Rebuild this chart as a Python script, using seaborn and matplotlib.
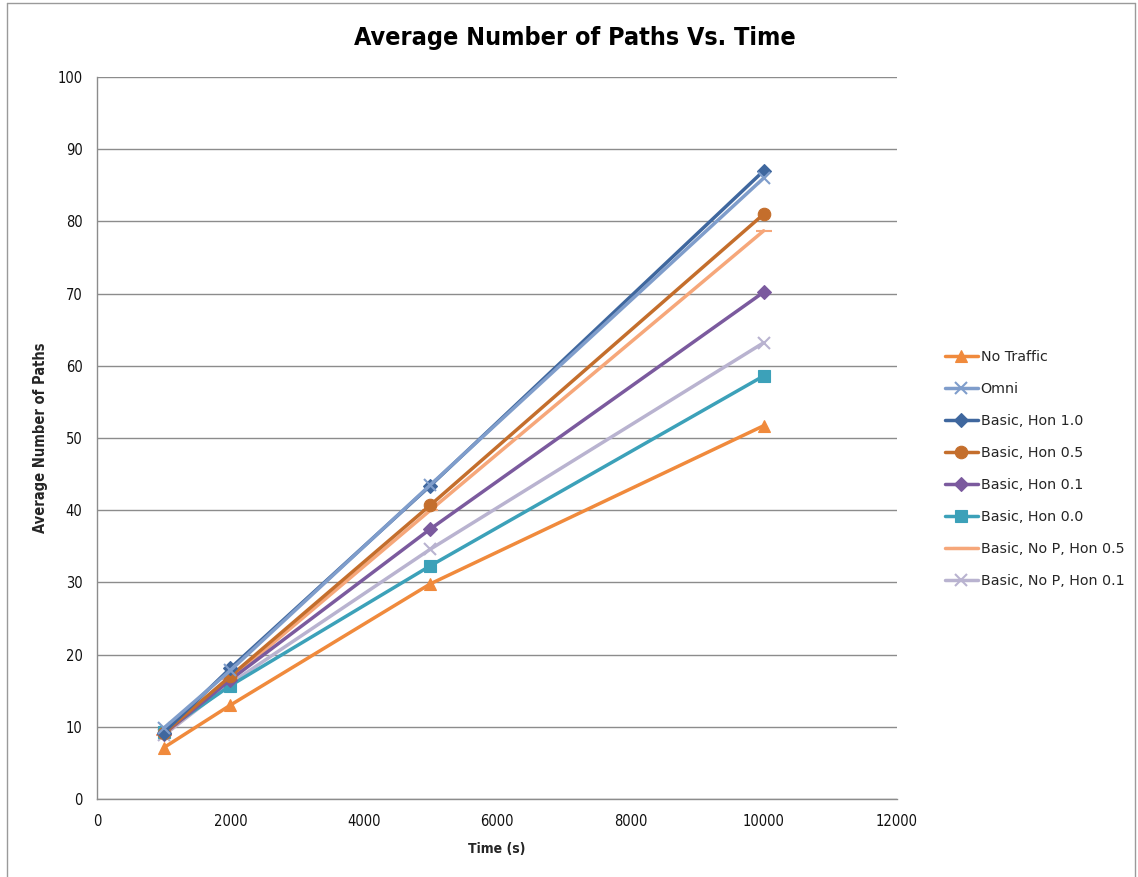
import matplotlib
matplotlib.use("Agg")
import matplotlib.pyplot as plt
from matplotlib.lines import Line2D
import seaborn as sns
import pandas as pd

time_s = [1000, 2000, 5000, 10000]

no_traffic = [7.1, 13.0, 29.8, 51.7]
omni = [9.8, 17.8, 43.5, 86.0]
basic_hon_10 = [9.2, 18.1, 43.4, 87.0]
basic_hon_05 = [9.1, 17.0, 40.7, 81.0]
basic_hon_01 = [9.0, 16.5, 37.4, 70.2]
basic_hon_00 = [9.3, 15.7, 32.3, 58.6]
basic_nop_hon_05 = [8.9, 16.6, 40.0, 78.7]
basic_nop_hon_01 = [8.8, 16.0, 34.6, 63.2]

series_names = ["No Traffic", "Omni", "Basic, Hon 1.0", "Basic, Hon 0.5",
                "Basic, Hon 0.1", "Basic, Hon 0.0", "Basic, No P, Hon 0.5",
                "Basic, No P, Hon 0.1"]
series_values = [no_traffic, omni, basic_hon_10, basic_hon_05,
                 basic_hon_01, basic_hon_00, basic_nop_hon_05, basic_nop_hon_01]

colors = ["#F08A3C", "#7F9DCB", "#3F679E", "#C46E2C",
          "#7B5A9E", "#3CA1B9", "#F6A77A", "#B9B3D0"]
markers = ["^", "x", "D", "o", "D", "s", "_", "x"]
msizes = [9, 8, 7, 9, 7, 9, 12, 8]

x_ticks = [0, 2000, 4000, 6000, 8000, 10000, 12000]
y_ticks = [0, 10, 20, 30, 40, 50, 60, 70, 80, 90, 100]

sns.set_style("white")
plt.rcParams["font.family"] = ["DejaVu Sans"]
plt.rcParams["font.stretch"] = "condensed"

fig = plt.figure(figsize=(11.38, 8.77), dpi=100)
ax = fig.add_axes([97 / 1138, 1 - 799 / 877, 800 / 1138, 722 / 877])

frames = []
for name, vals in zip(series_names, series_values):
    frames.append(pd.DataFrame({"Time (s)": time_s, "Paths": vals, "Series": name}))
df = pd.concat(frames, ignore_index=True)

# Draw in reverse so the first series sits on top
for i in reversed(range(len(series_names))):
    sub = df[df["Series"] == series_names[i]]
    sns.lineplot(data=sub, x="Time (s)", y="Paths", ax=ax, color=colors[i],
                 marker=markers[i], markersize=msizes[i], linewidth=2.5,
                 markeredgecolor=colors[i],
                 markeredgewidth=1.5 if markers[i] in ("x", "_") else 0.8,
                 label=series_names[i], zorder=3 + len(series_names) - i)

ax.set_xlim(0, 12000)
ax.set_ylim(0, 100)
ax.set_xticks(x_ticks)
ax.set_yticks(y_ticks)
ax.tick_params(axis="both", labelsize=10.5, length=0, colors="#111111")
ax.tick_params(axis="x", pad=11)
ax.tick_params(axis="y", pad=10.5)
ax.yaxis.grid(True, color="#8C8C8C", linewidth=1)
ax.xaxis.grid(False)
for side in ("top", "right"):
    ax.spines[side].set_visible(False)
for side in ("left", "bottom"):
    ax.spines[side].set_color("#8C8C8C")
    ax.spines[side].set_linewidth(1)

ax.set_xlabel("Time (s)", fontsize=10, fontweight="bold", labelpad=9)
ax.set_ylabel("Average Number of Paths", fontsize=10.5, fontweight="bold", labelpad=7)

fig.text(575 / 1138, 1 - 38 / 877, "Average Number of Paths Vs. Time",
         ha="center", va="center", fontsize=18, fontweight="bold", color="black")

handles, labels = ax.get_legend_handles_labels()
order = [labels.index(n) for n in series_names]
ax.legend([handles[k] for k in order], [labels[k] for k in order],
          loc="upper left", bbox_to_anchor=(932 / 1138, 1 - 337 / 877),
          bbox_transform=fig.transFigure, frameon=False,
          prop={"size": 10.3, "stretch": "normal"},
          labelspacing=1.26, handlelength=2.3, handletextpad=0.2)

# Chart-area frame (open at the bottom edge)
frame_color = "#9A9A9A"
x0, x1 = 7 / 1138, 1135 / 1138
y_top = 1 - 3 / 877
fig.add_artist(Line2D([x0, x0], [0, y_top], color=frame_color, linewidth=1,
                      transform=fig.transFigure))
fig.add_artist(Line2D([x1, x1], [0, y_top], color=frame_color, linewidth=1,
                      transform=fig.transFigure))
fig.add_artist(Line2D([x0, x1], [y_top, y_top], color=frame_color, linewidth=1,
                      transform=fig.transFigure))

fig.savefig("out.png", dpi=100)
